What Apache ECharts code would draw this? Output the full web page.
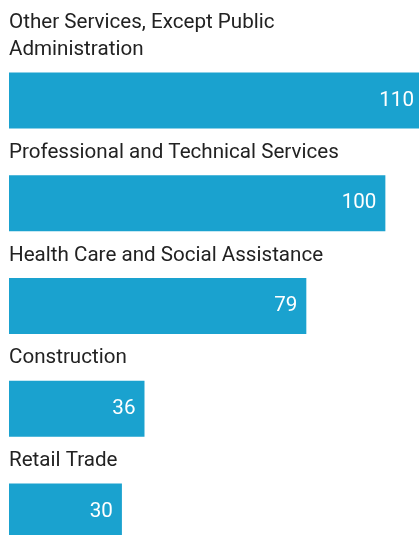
<!DOCTYPE html>
<html>
<head>
<meta charset="utf-8">
<script src="https://cdn.jsdelivr.net/npm/echarts@6/dist/echarts.min.js"></script>
<style>
  html, body { margin: 0; padding: 0; background: #fff; overflow: hidden; }
  /* the last bar and the longest bar run past the window edge in the reference */
  #chart { width: 423px; height: 563px; }
</style>
</head>
<body>
<div id="chart"></div>
<script>
const categories = [
  "Other Services, Except Public Administration",
  "Professional and Technical Services",
  "Health Care and Social Assistance",
  "Construction",
  "Retail Trade"
];
const values = [110, 100, 79, 36, 30];

const chart = echarts.init(document.getElementById("chart"));

const font = "Roboto, 'Noto Sans', sans-serif";

chart.setOption({
  animation: false,
  backgroundColor: "#fff",
  grid: {
    left: 9,
    right: 0,
    top: 49,
    bottom: 0
  },
  xAxis: {
    type: "value",
    min: 0,
    max: 110,
    show: false
  },
  yAxis: {
    type: "category",
    data: categories,
    inverse: true,
    show: false
  },
  series: [
    {
      // category names drawn above each bar
      type: "bar",
      data: values,
      barWidth: 56,
      barGap: "-100%",
      itemStyle: { color: "transparent" },
      silent: true,
      label: {
        show: true,
        position: [0, -9],
        align: "left",
        verticalAlign: "bottom",
        formatter: (p) => p.name,
        width: 390,
        overflow: "break",
        fontFamily: font,
        fontSize: 20.6,
        lineHeight: 27,
        color: "#222"
      },
      z: 3
    },
    {
      type: "bar",
      data: values,
      barWidth: 56,
      barGap: "-100%",
      itemStyle: { color: "#1aa2cf" },
      label: {
        show: true,
        position: "insideRight",
        distance: 9,
        fontFamily: font,
        fontSize: 20.6,
        color: "#fff"
      },
      z: 2
    }
  ]
});
</script>
</body>
</html>
